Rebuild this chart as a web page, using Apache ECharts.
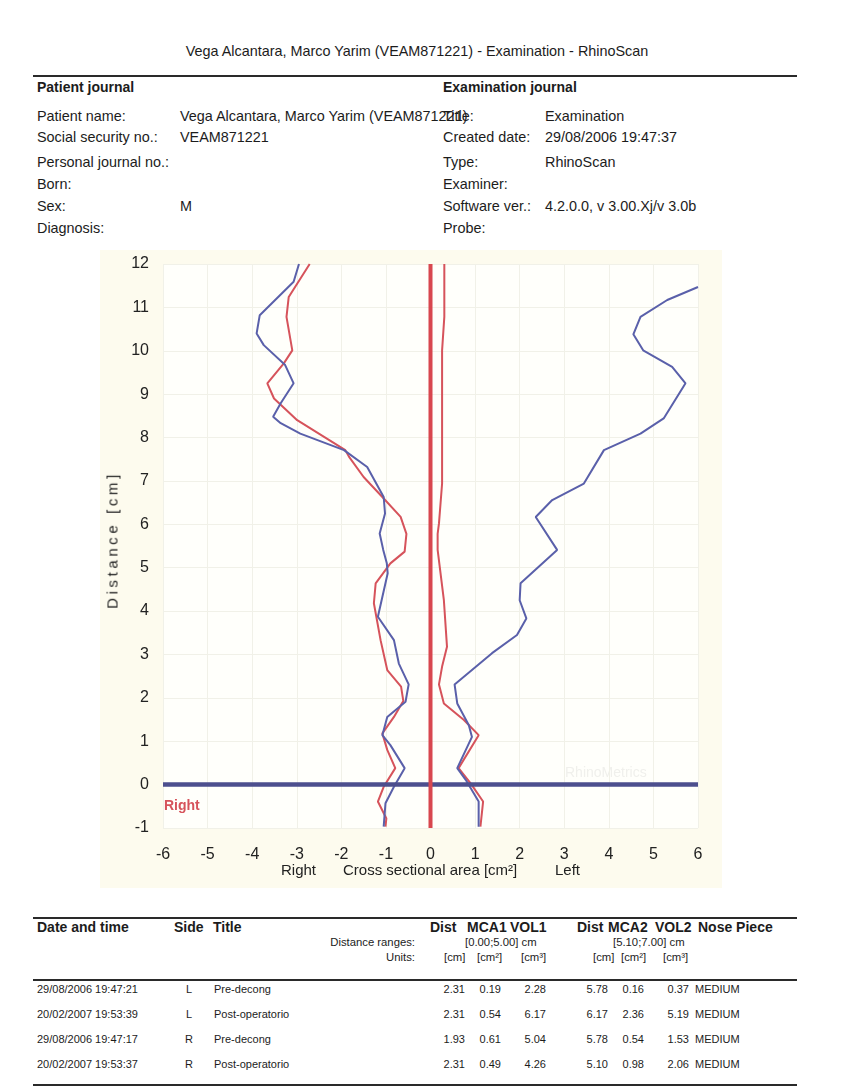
<!DOCTYPE html>
<html><head><meta charset="utf-8">
<script src="https://cdn.jsdelivr.net/npm/echarts@6/dist/echarts.min.js"></script>
<style>
body{margin:0;background:#fff;}
#page{position:relative;width:866px;height:1091px;overflow:hidden;background:#fff;font-family:"Liberation Sans",Arial,sans-serif;color:#1c1c1c;}
.t{position:absolute;white-space:nowrap;line-height:1;}
.rule{position:absolute;height:2px;background:#2a2a2a;}
#chart{position:absolute;left:100px;top:250px;width:622px;height:638px;}
#yname{position:absolute;left:112px;top:540px;transform:translate(-50%,-50%) rotate(-90deg);font-size:15px;letter-spacing:3.6px;white-space:nowrap;line-height:1;color:#222;font-family:"Liberation Sans",Arial,sans-serif;}
</style></head>
<body><div id="page"><div id="chart"></div><div id="yname">Distance [cm]</div></div>
<script>
// ---------- data ----------
const xTicks = [-6,-5,-4,-3,-2,-1,0,1,2,3,4,5,6];
const yTicks = [-1,0,1,2,3,4,5,6,7,8,9,10,11,12];
// Right side (negative area axis), pre-decong (red)
const rightPre = [[-2.71,12],[-3.18,11.24],[-3.23,10.78],[-3.10,10.01],[-3.29,9.71],[-3.66,9.25],[-3.51,8.90],[-2.99,8.40],[-1.91,7.71],[-1.83,7.56],[-1.50,7.09],[-1.08,6.63],[-0.67,6.17],[-0.54,5.78],[-0.58,5.37],[-0.90,5.10],[-1.23,4.64],[-1.27,4.18],[-1.12,3.33],[-0.97,2.64],[-0.66,2.26],[-0.61,1.93],[-0.82,1.56],[-1.08,1.18],[-0.97,0.80],[-0.79,0.38],[-1.05,-0.05],[-1.18,-0.39],[-0.99,-0.78],[-1.01,-0.97]];
// Right side, post-operatorio (blue)
const rightPost = [[-2.95,12],[-3.07,11.59],[-3.83,10.82],[-3.90,10.40],[-3.74,10.13],[-3.26,9.67],[-3.07,9.25],[-3.36,8.79],[-3.53,8.48],[-3.36,8.33],[-2.92,8.09],[-1.94,7.71],[-1.42,7.32],[-1.05,6.63],[-1.02,6.25],[-1.14,5.79],[-1.06,5.41],[-0.98,5.10],[-0.96,4.87],[-1.18,3.87],[-0.82,3.33],[-0.71,2.79],[-0.49,2.31],[-0.56,1.91],[-0.97,1.56],[-1.08,1.14],[-0.90,0.91],[-0.58,0.38],[-0.82,-0.05],[-1.01,-0.43],[-1.05,-0.97]];
// Left side, pre-decong (red)
const leftPre = [[0.31,12],[0.31,10.78],[0.26,10.01],[0.26,8.48],[0.26,6.94],[0.19,6.02],[0.16,5.78],[0.16,5.41],[0.30,4.25],[0.37,3.18],[0.26,2.72],[0.19,2.31],[0.30,1.87],[0.75,1.49],[1.08,1.14],[0.63,0.38],[0.90,0.03],[1.18,-0.39],[1.12,-0.97]];
// Left side, post-operatorio (blue)
const leftPost = [[6.0,11.47],[5.31,11.17],[4.71,10.78],[4.55,10.38],[4.77,10.01],[5.42,9.63],[5.72,9.25],[5.23,8.44],[4.71,8.09],[3.89,7.71],[3.44,6.94],[2.73,6.56],[2.36,6.17],[2.84,5.41],[2.02,4.64],[2.00,4.25],[2.15,3.83],[1.94,3.45],[1.38,3.03],[0.54,2.31],[0.60,1.87],[0.86,1.37],[0.93,1.10],[0.60,0.38],[0.79,0.11],[1.08,-0.39],[1.08,-0.97]];
const baseline = [[-6,0],[6,0]];
const centerLine = [[0,-1],[0,12]];

// table data
const tDates = ["29/08/2006 19:47:21","20/02/2007 19:53:39","29/08/2006 19:47:17","20/02/2007 19:53:37"];
const tSides = ["L","L","R","R"];
const tTitles = ["Pre-decong","Post-operatorio","Pre-decong","Post-operatorio"];
const tDist1 = ["2.31","2.31","1.93","2.31"];
const tMca1 = ["0.19","0.54","0.61","0.49"];
const tVol1 = ["2.28","6.17","5.04","4.26"];
const tDist2 = ["5.78","6.17","5.78","5.10"];
const tMca2 = ["0.16","2.36","0.54","0.98"];
const tVol2 = ["0.37","5.19","1.53","2.06"];
const tNose = ["MEDIUM","MEDIUM","MEDIUM","MEDIUM"];

// ---------- page text ----------
const page = document.getElementById('page');
function T(txt, x, y, size, opt){
  opt = opt || {};
  const d = document.createElement('div');
  d.className = 't';
  d.textContent = txt;
  d.style.fontSize = size + 'px';
  d.style.top = (y - size*0.5) + 'px';
  if (opt.bold) d.style.fontWeight = 'bold';
  if (opt.align === 'r') { d.style.left = x + 'px'; d.style.transform = 'translateX(-100%)'; }
  else if (opt.align === 'c') { d.style.left = x + 'px'; d.style.transform = 'translateX(-50%)'; }
  else d.style.left = x + 'px';
  page.appendChild(d);
}
function R(x1, x2, y, h){
  const d = document.createElement('div');
  d.className = 'rule';
  d.style.left = x1 + 'px'; d.style.width = (x2 - x1) + 'px'; d.style.top = y + 'px';
  if (h) d.style.height = h + 'px';
  page.appendChild(d);
}
T("Vega Alcantara, Marco Yarim (VEAM871221) - Examination - RhinoScan", 417, 51, 14.4, {align:'c'});
R(33, 797, 75);
const B = 14.4;
T("Patient journal", 37, 87, 14, {bold:true});
T("Examination journal", 443, 87, 14, {bold:true});
const lLabels = [["Patient name:",116],["Social security no.:",137],["Personal journal no.:",162],["Born:",184],["Sex:",206],["Diagnosis:",228]];
lLabels.forEach(a => T(a[0], 37, a[1], B));
T("Vega Alcantara, Marco Yarim (VEAM871221)", 180, 116, B);
T("VEAM871221", 180, 137, B);
T("M", 180, 206, B);
const rLabels = [["Title:",116],["Created date:",137],["Type:",162],["Examiner:",184],["Software ver.:",206],["Probe:",228]];
rLabels.forEach(a => T(a[0], 443, a[1], B));
T("Examination", 545, 116, B);
T("29/08/2006 19:47:37", 545, 137, B);
T("RhinoScan", 545, 162, B);
T("4.2.0.0, v 3.00.Xj/v 3.0b", 545, 206, B);

// table
R(33, 797, 917);
const hy = 927;
T("Date and time", 37, hy, 14, {bold:true});
T("Side", 174, hy, 14, {bold:true});
T("Title", 213, hy, 14, {bold:true});
T("Dist", 430, hy, 14, {bold:true});
T("MCA1", 467, hy, 14, {bold:true});
T("VOL1", 510, hy, 14, {bold:true});
T("Dist", 577, hy, 14, {bold:true});
T("MCA2", 608, hy, 14, {bold:true});
T("VOL2", 655, hy, 14, {bold:true});
T("Nose Piece", 698, hy, 14, {bold:true});
T("Distance ranges:", 415, 943, 11.3, {align:'r'});
T("[0.00;5.00] cm", 465, 943, 11.3);
T("[5.10;7.00] cm", 613, 943, 11.3);
T("Units:", 415, 958, 11.3, {align:'r'});
[["[cm]",444],["[cm²]",477],["[cm³]",521],["[cm]",593],["[cm²]",621],["[cm³]",663]].forEach(a => T(a[0], a[1], 958, 11.3));
R(33, 797, 979, 1.5);
const rowY = [989, 1014, 1039, 1064];
rowY.forEach((y, i) => {
  T(tDates[i], 37, y, 11);
  T(tSides[i], 189, y, 11, {align:'c'});
  T(tTitles[i], 214, y, 11);
  T(tDist1[i], 465, y, 11, {align:'r'});
  T(tMca1[i], 501, y, 11, {align:'r'});
  T(tVol1[i], 546, y, 11, {align:'r'});
  T(tDist2[i], 608, y, 11, {align:'r'});
  T(tMca2[i], 644, y, 11, {align:'r'});
  T(tVol2[i], 689, y, 11, {align:'r'});
  T(tNose[i], 695, y, 11);
});
R(33, 797, 1084);

// ---------- chart ----------
const FONT = '"Liberation Sans", Arial, sans-serif';
const RED = '#d6535b', BLUE = '#5a60aa';
const chart = echarts.init(document.getElementById('chart'), null, {renderer:'canvas'});
function curve(name, data, color){
  return {name, type:'line', data, symbol:'none', smooth:false, z:2,
    lineStyle:{color, width:2}, itemStyle:{color}};
}
chart.setOption({
  animation:false,
  backgroundColor:'#fdfbee',
  grid:{left:63, top:14, width:535, height:564, show:true, backgroundColor:'#fffffb', borderWidth:0},
  xAxis:{type:'value', min:-6, max:6, interval:1,
    axisLine:{show:false}, axisTick:{show:false},
    splitLine:{show:true, lineStyle:{color:'#f1f1e8', width:1}},
    axisLabel:{fontSize:16, color:'#222', margin:19, fontFamily:FONT,
      formatter:v => xTicks.includes(v) ? String(v) : ''}},
  yAxis:{type:'value', min:-1, max:12, interval:1,
    axisLine:{show:false}, axisTick:{show:false},
    splitLine:{show:true, lineStyle:{color:'#f1f1e8', width:1}},
    axisLabel:{fontSize:16, color:'#222', margin:14, fontFamily:FONT,
      formatter:v => yTicks.includes(v) ? String(v) : ''}},
  graphic:[
    {type:'text', left:64, top:549, style:{text:'Right', fill:RED, font:'bold 14px '+FONT}},
    {type:'text', left:465, top:516, style:{text:'RhinoMetrics', fill:'#f0f0ec', font:'14px '+FONT}},
    {type:'text', left:181, top:613, style:{text:'Right', fill:'#222', font:'15px '+FONT}},
    {type:'text', left:243, top:613, style:{text:'Cross sectional area [cm²]', fill:'#222', font:'15px '+FONT}},
    {type:'text', left:455, top:613, style:{text:'Left', fill:'#222', font:'15px '+FONT}}
  ],
  series:[
    curve('Right Pre-decong', rightPre, RED),
    curve('Right Post-operatorio', rightPost, BLUE),
    curve('Left Pre-decong', leftPre, RED),
    curve('Left Post-operatorio', leftPost, BLUE),
    {type:'line', data:baseline, symbol:'none', z:3, lineStyle:{color:'#4d4f8e', width:4.5}},
    {type:'line', data:centerLine, symbol:'none', z:4, lineStyle:{color:'#d8474f', width:4}}
  ]
});
</script>
</body></html>
